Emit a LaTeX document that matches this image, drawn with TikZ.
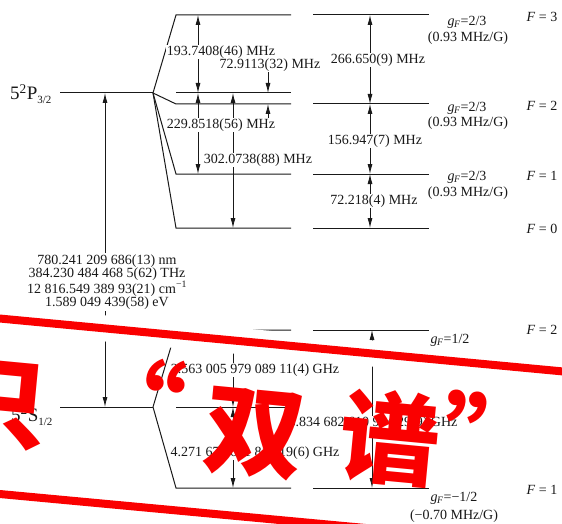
\documentclass[tikz,border=0pt]{standalone}
\usepackage{fontspec}
\setmainfont{Liberation Serif}
\newfontfamily\cjk{Noto Sans CJK SC}
\usetikzlibrary{arrows.meta}
\definecolor{ink}{gray}{0.1}
\definecolor{bannerred}{RGB}{250,0,0}
\begin{document}
\begin{tikzpicture}[x=1pt,y=-1pt,
  lvl/.style={draw=ink,line width=1pt},
  darr/.style={draw=ink,line width=0.85pt,{Latex[length=10pt,width=5pt]}-{Latex[length=10pt,width=5pt]}},
  sarr/.style={draw=ink,line width=0.85pt,-{Latex[length=10pt,width=5pt]}},
  lbl/.style={font=\fontsize{14}{13.4}\selectfont, text=ink, inner sep=1pt},
  wlbl/.style={lbl, fill=white},
  term/.style={font=\fontsize{19}{20}\selectfont, text=ink, inner sep=0pt},
  redglyph/.style={font=\cjk\bfseries\fontsize{100}{100}\selectfont, text=bannerred, rotate=-5.4, inner sep=0pt},
  strip/.style={draw=white,line width=26pt},
  redline/.style={draw=bannerred,line width=8pt}
]
\useasboundingbox (0,0) rectangle (562,524);
\fill[white] (0,0) rectangle (562,524);
\clip (0,0) rectangle (562,524);

% ---------- 5P_{3/2} ----------
\coordinate (P0) at (60,93);   \coordinate (Pj) at (153,93);
\coordinate (mP3a) at (176,15);  \coordinate (mP3b) at (291,15);
\coordinate (mPca) at (176,93);  \coordinate (mPcb) at (291,93);
\coordinate (mP2a) at (176,104); \coordinate (mP2b) at (291,104);
\coordinate (mP1a) at (176,174); \coordinate (mP1b) at (291,174);
\coordinate (mP0a) at (176,228); \coordinate (mP0b) at (291,228);
\coordinate (rP3a) at (313,15);  \coordinate (rP3b) at (429,15);
\coordinate (rP2a) at (313,104); \coordinate (rP2b) at (429,104);
\coordinate (rP1a) at (313,174); \coordinate (rP1b) at (429,174);
\coordinate (rP0a) at (313,228); \coordinate (rP0b) at (429,228);

% ---------- 5S_{1/2} ----------
\coordinate (S0) at (60,407);  \coordinate (Sj) at (153,407);
\coordinate (mS2a) at (176,330); \coordinate (mS2b) at (291,330);
\coordinate (mSca) at (176,407); \coordinate (mScb) at (291,407);
\coordinate (mS1a) at (176,488); \coordinate (mS1b) at (291,488);
\coordinate (rS2a) at (313,330); \coordinate (rS2b) at (429,330);
\coordinate (rS1a) at (313,488); \coordinate (rS1b) at (429,488);

% x positions of arrows
\coordinate (xT) at (105,0);
\coordinate (xA) at (198,0);
\coordinate (xB) at (233,0);
\coordinate (xC) at (268,0);
\coordinate (xR) at (370,0);
\coordinate (xS) at (372,0);

% levels
\draw[lvl] (P0) -- (Pj);
\draw[lvl] (Pj) -- (mP3a) -- (mP3b);
\draw[lvl] (mPca) -- (mPcb);
\draw[lvl] (Pj) -- (mP2a) -- (mP2b);
\draw[lvl] (Pj) -- (mP1a) -- (mP1b);
\draw[lvl] (Pj) -- (mP0a) -- (mP0b);
\foreach \n in {rP3,rP2,rP1,rP0,rS2,rS1} {\draw[lvl] (\n a) -- (\n b);}
\draw[lvl] (S0) -- (Sj);
\draw[lvl] (Sj) -- (mS2a) -- (mS2b);
\draw[lvl] (mSca) -- (mScb);
\draw[lvl] (Sj) -- (mS1a) -- (mS1b);

% arrows
\draw[darr] (xT |- Pj) -- (xT |- Sj);
\draw[darr] (xA |- mP3a) -- (xA |- mPca);
\draw[darr] (xA |- mPca) -- (xA |- mP1a);
\draw[darr] (xB |- mPca) -- (xB |- mP0a);
\coordinate (c1) at (268,62); \coordinate (c2) at (268,125);
\draw[sarr] (c1) -- (xC |- mPca);
\draw[sarr] (c2) -- (xC |- mP2a);
\draw[darr] (xR |- rP3a) -- (xR |- rP2a);
\draw[darr] (xR |- rP2a) -- (xR |- rP1a);
\draw[darr] (xR |- rP1a) -- (xR |- rP0a);
\draw[darr] (xB |- mS2a) -- (xB |- mSca);
\draw[darr] (xB |- mSca) -- (xB |- mS1a);
\draw[darr] (xS |- rS2a) -- (xS |- rS1a);

% labels
\node[term, anchor=base west] (tP) at (10,100) {5\textsuperscript{2}P\raisebox{-4pt}{\fontsize{11}{11}\selectfont 3/2}};
\node[term, anchor=base west] (tS) at (11,421) {5\textsuperscript{2}S\raisebox{-4pt}{\fontsize{11}{11}\selectfont 1/2}};
\node[wlbl, align=center] (trans) at (107,282) {780.241 209 686(13) nm\\384.230 484 468 5(62) THz\\12 816.549 389 93(21) cm\textsuperscript{−1}\\1.589 049 439(58) eV};
\node[wlbl] (l1) at (221,52) {193.7408(46) MHz};
\node[wlbl] (l2) at (270,65) {72.9113(32) MHz};
\node[wlbl] (l3) at (221,125) {229.8518(56) MHz};
\node[wlbl] (l4) at (258,160) {302.0738(88) MHz};
\node[wlbl] (l5) at (378,60) {266.650(9) MHz};
\node[wlbl] (l6) at (375,141) {156.947(7) MHz};
\node[wlbl] (l7) at (374,201) {72.218(4) MHz};
\node[wlbl] (l8) at (255,370) {2.563 005 979 089 11(4) GHz};
\node[wlbl] (l9) at (373,423) {6.834 682 610 904 29(9) GHz};
\node[wlbl] (l10) at (255,453) {4.271 676 631 815 19(6) GHz};

\newcommand{\gF}{\textit{g}\textsubscript{\kern-0.5pt\textit{F}}}
\node[lbl] (g3) at (467,22) {\gF=2/3};
\node[lbl] (g3b) at (468,38) {(0.93 MHz/G)};
\node[lbl] (g2) at (467,108) {\gF=2/3};
\node[lbl] (g2b) at (468,123) {(0.93 MHz/G)};
\node[lbl] (g1) at (467,177) {\gF=2/3};
\node[lbl] (g1b) at (468,193) {(0.93 MHz/G)};
\node[lbl] (gs2) at (450,340) {\gF=1/2};
\node[lbl] (gs1) at (454,498) {\gF=−1/2};
\node[lbl] (gs1b) at (454,516) {(−0.70 MHz/G)};

\node[lbl] (F3) at (542,17) {\textit{F} = 3};
\node[lbl] (F2) at (542,106) {\textit{F} = 2};
\node[lbl] (F1) at (542,176) {\textit{F} = 1};
\node[lbl] (F0) at (542,229) {\textit{F} = 0};
\node[lbl] (FS2) at (542,330) {\textit{F} = 2};
\node[lbl] (FS1) at (542,490) {\textit{F} = 1};

% ---------- banner overlay ----------
\coordinate (bt1) at (-10,317.6); \coordinate (bt2) at (572,372.3);
\coordinate (bb1) at (-10,493.1); \coordinate (bb2) at (572,547.2);
\draw[strip] (bt1) -- (bt2);
\draw[redline] (bt1) -- (bt2);
\draw[redline] (bb1) -- (bb2);

\node[redglyph] (z1) at (-2,405) {只};
\node[redglyph] (z2) at (135,400) {“};
\node[redglyph] (z3) at (255,434) {双};
\node[redglyph] (z4) at (390,438) {谱};
\node[redglyph] (z5) at (493,436) {”};
\end{tikzpicture}
\end{document}
